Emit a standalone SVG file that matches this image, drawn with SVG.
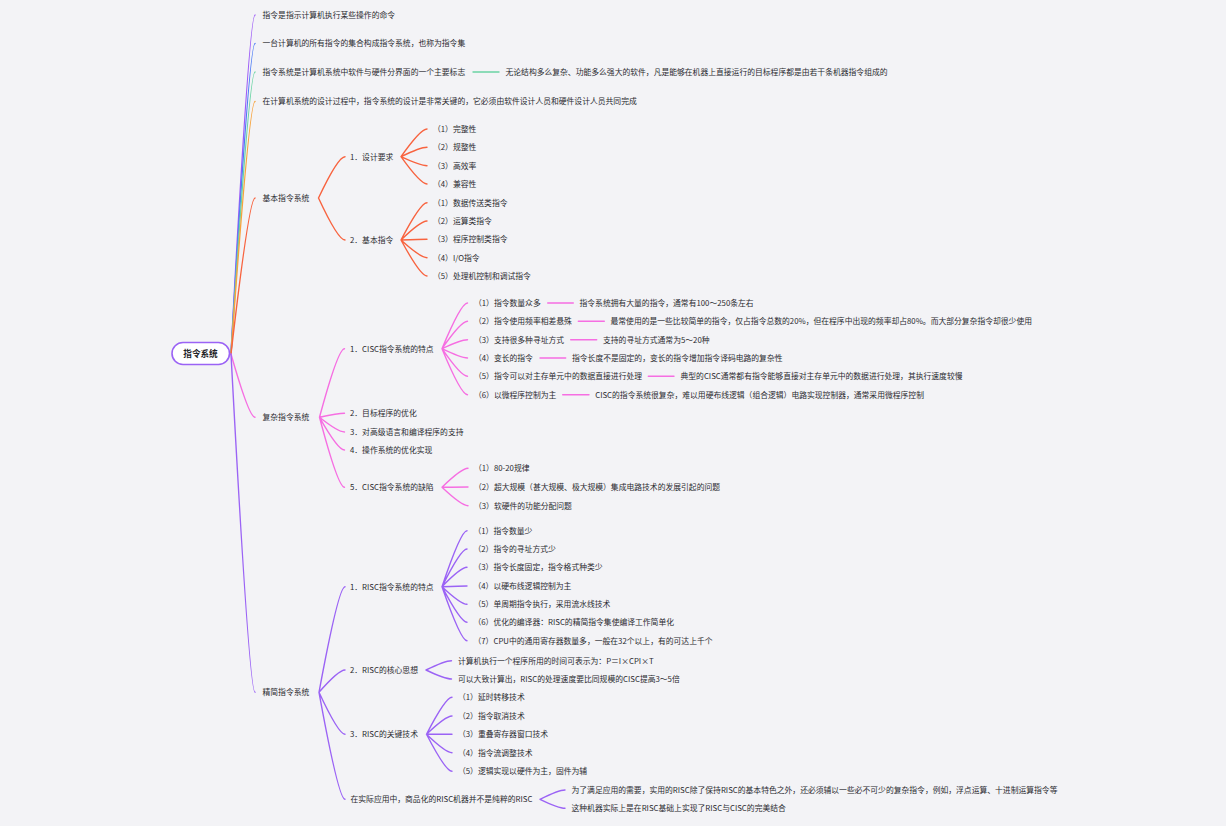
<svg xmlns="http://www.w3.org/2000/svg" width="1226" height="826" viewBox="0 0 1226 826">
<style>
.t{font-family:"Noto Sans CJK SC","Noto Sans",sans-serif;font-size:7.8px;fill:#2a2a2f}
.r{font-family:"Noto Sans CJK SC","Noto Sans",sans-serif;font-size:8.6px;font-weight:bold;fill:#222226}
.c path,.c line{fill:none;stroke-width:1.4;stroke-linecap:round}
.p1{stroke:#9d5cf7}.p2{stroke:#4c7bf6}.p3{stroke:#6bd4a4}.p4{stroke:#f7a33c}.p5{stroke:#f8633f}.p6{stroke:#f66ee2}.p7{stroke:#9b63f5}
</style>
<rect width="1226" height="826" fill="#f3f3f6"/>
<g id="connectors" class="c">
<path class="p1" d="M231 354 Q249 15 255 15"/>
<path class="p2" d="M231 354 Q249 43.5 255 43.5"/>
<path class="p3" d="M231 354 Q249 72 255 72"/>
<path class="p4" d="M231 354 Q249 101.5 255 101.5"/>
<path class="p5" d="M231 354 Q249 198 255 198"/>
<path class="p6" d="M231 354 Q249 417.3 255 417.3"/>
<path class="p7" d="M231 354 Q249 692.3 255 692.3"/>
<line class="p3" x1="473" y1="72" x2="499" y2="72"/>
<path class="p5" d="M318.5 198 Q338 156.7 345 156.7 M318.5 198 Q338 240 345 240"/>
<path class="p5" d="M401 156.7 Q420.5 129 427 129 M401 156.7 Q420.5 147.3 427 147.3 M401 156.7 Q420.5 165.7 427 165.7 M401 156.7 Q420.5 184 427 184"/>
<path class="p5" d="M401 240 Q420.5 202.7 427 202.7 M401 240 Q420.5 221 427 221 M401 240 Q420.5 239.3 427 239.3 M401 240 Q420.5 257.7 427 257.7 M401 240 Q420.5 276 427 276"/>
<path class="p6" d="M319.5 417.3 Q338 348.7 344.5 348.7 M319.5 417.3 Q338 413.3 344.5 413.3 M319.5 417.3 Q338 432 344.5 432 M319.5 417.3 Q338 450 344.5 450 M319.5 417.3 Q338 487.3 344.5 487.3"/>
<path class="p6" d="M442 348.7 Q461 303 467.5 303 M442 348.7 Q461 321.3 467.5 321.3 M442 348.7 Q461 339.7 467.5 339.7 M442 348.7 Q461 358 467.5 358 M442 348.7 Q461 376.3 467.5 376.3 M442 348.7 Q461 394.7 467.5 394.7"/>
<line class="p6" x1="547.7" y1="303" x2="573.3" y2="303"/>
<line class="p6" x1="578.3" y1="321.3" x2="604.3" y2="321.3"/>
<line class="p6" x1="570.7" y1="339.7" x2="596.7" y2="339.7"/>
<line class="p6" x1="540" y1="358" x2="565.7" y2="358"/>
<line class="p6" x1="648.3" y1="376.3" x2="674" y2="376.3"/>
<line class="p6" x1="562.7" y1="394.7" x2="589" y2="394.7"/>
<path class="p6" d="M442 487.3 Q461.5 468.3 468 468.3 M442 487.3 Q461.5 487 468 487 M442 487.3 Q461.5 505.7 468 505.7"/>
<path class="p7" d="M319 692.3 Q338.5 586.7 345 586.7 M319 692.3 Q338.5 670 345 670 M319 692.3 Q338.5 734.3 345 734.3 M319 692.3 Q338.5 799.3 345 799.3"/>
<path class="p7" d="M442 586.7 Q460.8 530.7 467 530.7 M442 586.7 Q460.8 549 467 549 M442 586.7 Q460.8 567.3 467 567.3 M442 586.7 Q460.8 586 467 586 M442 586.7 Q460.8 604.3 467 604.3 M442 586.7 Q460.8 622.3 467 622.3 M442 586.7 Q460.8 640.7 467 640.7"/>
<path class="p7" d="M426 670 Q445 660.7 451.5 660.7 M426 670 Q445 679 451.5 679"/>
<path class="p7" d="M426.5 734.3 Q445.6 697.3 452 697.3 M426.5 734.3 Q445.6 716 452 716 M426.5 734.3 Q445.6 734.3 452 734.3 M426.5 734.3 Q445.6 752.7 452 752.7 M426.5 734.3 Q445.6 771.3 452 771.3"/>
<path class="p7" d="M540 799.3 Q558.8 790 565 790 M540 799.3 Q558.8 808.3 565 808.3"/>
</g>
<g id="root">
<rect x="172" y="342.5" width="57.5" height="22" rx="11" fill="#ffffff" stroke="#9b63f5" stroke-width="1.6"/>
<text class="r" x="200.5" y="357.2" text-anchor="middle">指令系统</text>
</g>
<g id="n1"><text class="t" x="262.5" y="17.9">指令是指示计算机执行某些操作的命令</text></g>
<g id="n2"><text class="t" x="262.5" y="46.4">一台计算机的所有指令的集合构成指令系统，也称为指令集</text></g>
<g id="n3"><text class="t" x="262.5" y="74.9">指令系统是计算机系统中软件与硬件分界面的一个主要标志</text></g>
<g id="n3-1"><text class="t" x="505.5" y="74.9">无论结构多么复杂、功能多么强大的软件，凡是能够在机器上直接运行的目标程序都是由若干条机器指令组成的</text></g>
<g id="n4"><text class="t" x="262.5" y="104.4">在计算机系统的设计过程中，指令系统的设计是非常关键的，它必须由软件设计人员和硬件设计人员共同完成</text></g>
<g id="n5"><text class="t" x="262.5" y="200.9">基本指令系统</text></g>
<g id="n5-1"><text class="t" x="350" y="159.6">1．设计要求</text></g>
<g id="n5-1-1"><text class="t" x="433" y="131.9">（1）完整性</text></g>
<g id="n5-1-2"><text class="t" x="433" y="150.2">（2）规整性</text></g>
<g id="n5-1-3"><text class="t" x="433" y="168.6">（3）高效率</text></g>
<g id="n5-1-4"><text class="t" x="433" y="186.9">（4）兼容性</text></g>
<g id="n5-2"><text class="t" x="350" y="242.9">2．基本指令</text></g>
<g id="n5-2-1"><text class="t" x="433" y="205.6">（1）数据传送类指令</text></g>
<g id="n5-2-2"><text class="t" x="433" y="223.9">（2）运算类指令</text></g>
<g id="n5-2-3"><text class="t" x="433" y="242.2">（3）程序控制类指令</text></g>
<g id="n5-2-4"><text class="t" x="433" y="260.6">（4）I/O指令</text></g>
<g id="n5-2-5"><text class="t" x="433" y="278.9">（5）处理机控制和调试指令</text></g>
<g id="n6"><text class="t" x="262.5" y="420.2">复杂指令系统</text></g>
<g id="n6-1"><text class="t" x="350" y="351.6">1．CISC指令系统的特点</text></g>
<g id="n6-1-1"><text class="t" x="474" y="305.9">（1）指令数量众多</text></g>
<g id="n6-1-1a"><text class="t" x="579.5" y="305.9">指令系统拥有大量的指令，通常有100～250条左右</text></g>
<g id="n6-1-2"><text class="t" x="474" y="324.2">（2）指令使用频率相差悬殊</text></g>
<g id="n6-1-2a"><text class="t" x="610.5" y="324.2">最常使用的是一些比较简单的指令，仅占指令总数的20%，但在程序中出现的频率却占80%。而大部分复杂指令却很少使用</text></g>
<g id="n6-1-3"><text class="t" x="474" y="342.6">（3）支持很多种寻址方式</text></g>
<g id="n6-1-3a"><text class="t" x="603" y="342.6">支持的寻址方式通常为5～20种</text></g>
<g id="n6-1-4"><text class="t" x="474" y="360.9">（4）变长的指令</text></g>
<g id="n6-1-4a"><text class="t" x="572" y="360.9">指令长度不是固定的，变长的指令增加指令译码电路的复杂性</text></g>
<g id="n6-1-5"><text class="t" x="474" y="379.2">（5）指令可以对主存单元中的数据直接进行处理</text></g>
<g id="n6-1-5a"><text class="t" x="680.5" y="379.2">典型的CISC通常都有指令能够直接对主存单元中的数据进行处理，其执行速度较慢</text></g>
<g id="n6-1-6"><text class="t" x="474" y="397.6">（6）以微程序控制为主</text></g>
<g id="n6-1-6a"><text class="t" x="595.2" y="397.6">CISC的指令系统很复杂，难以用硬布线逻辑（组合逻辑）电路实现控制器，通常采用微程序控制</text></g>
<g id="n6-2"><text class="t" x="350" y="416.2">2．目标程序的优化</text></g>
<g id="n6-3"><text class="t" x="350" y="434.9">3．对高级语言和编译程序的支持</text></g>
<g id="n6-4"><text class="t" x="350" y="452.9">4．操作系统的优化实现</text></g>
<g id="n6-5"><text class="t" x="350" y="490.2">5．CISC指令系统的缺陷</text></g>
<g id="n6-5-1"><text class="t" x="474" y="471.2">（1）80-20规律</text></g>
<g id="n6-5-2"><text class="t" x="474" y="489.9">（2）超大规模（甚大规模、极大规模）集成电路技术的发展引起的问题</text></g>
<g id="n6-5-3"><text class="t" x="474" y="508.6">（3）软硬件的功能分配问题</text></g>
<g id="n7"><text class="t" x="262.5" y="695.2">精简指令系统</text></g>
<g id="n7-1"><text class="t" x="350" y="589.6">1．RISC指令系统的特点</text></g>
<g id="n7-1-1"><text class="t" x="473.5" y="533.6">（1）指令数量少</text></g>
<g id="n7-1-2"><text class="t" x="473.5" y="551.9">（2）指令的寻址方式少</text></g>
<g id="n7-1-3"><text class="t" x="473.5" y="570.2">（3）指令长度固定，指令格式种类少</text></g>
<g id="n7-1-4"><text class="t" x="473.5" y="588.9">（4）以硬布线逻辑控制为主</text></g>
<g id="n7-1-5"><text class="t" x="473.5" y="607.2">（5）单周期指令执行，采用流水线技术</text></g>
<g id="n7-1-6"><text class="t" x="473.5" y="625.2">（6）优化的编译器：RISC的精简指令集使编译工作简单化</text></g>
<g id="n7-1-7"><text class="t" x="473.5" y="643.6">（7）CPU中的通用寄存器数量多，一般在32个以上，有的可达上千个</text></g>
<g id="n7-2"><text class="t" x="350" y="672.9">2．RISC的核心思想</text></g>
<g id="n7-2-1"><text class="t" x="458" y="663.6">计算机执行一个程序所用的时间可表示为：P＝I×CPI×T</text></g>
<g id="n7-2-2"><text class="t" x="458" y="681.9">可以大致计算出，RISC的处理速度要比同规模的CISC提高3～5倍</text></g>
<g id="n7-3"><text class="t" x="350" y="737.2">3．RISC的关键技术</text></g>
<g id="n7-3-1"><text class="t" x="458" y="700.2">（1）延时转移技术</text></g>
<g id="n7-3-2"><text class="t" x="458" y="718.9">（2）指令取消技术</text></g>
<g id="n7-3-3"><text class="t" x="458" y="737.2">（3）重叠寄存器窗口技术</text></g>
<g id="n7-3-4"><text class="t" x="458" y="755.6">（4）指令流调整技术</text></g>
<g id="n7-3-5"><text class="t" x="458" y="774.2">（5）逻辑实现以硬件为主，固件为辅</text></g>
<g id="n7-4"><text class="t" x="350.5" y="802.2">在实际应用中，商品化的RISC机器并不是纯粹的RISC</text></g>
<g id="n7-4-1"><text class="t" x="571.5" y="792.9">为了满足应用的需要，实用的RISC除了保持RISC的基本特色之外，还必须辅以一些必不可少的复杂指令，例如，浮点运算、十进制运算指令等</text></g>
<g id="n7-4-2"><text class="t" x="571.5" y="811.2">这种机器实际上是在RISC基础上实现了RISC与CISC的完美结合</text></g>
</svg>
